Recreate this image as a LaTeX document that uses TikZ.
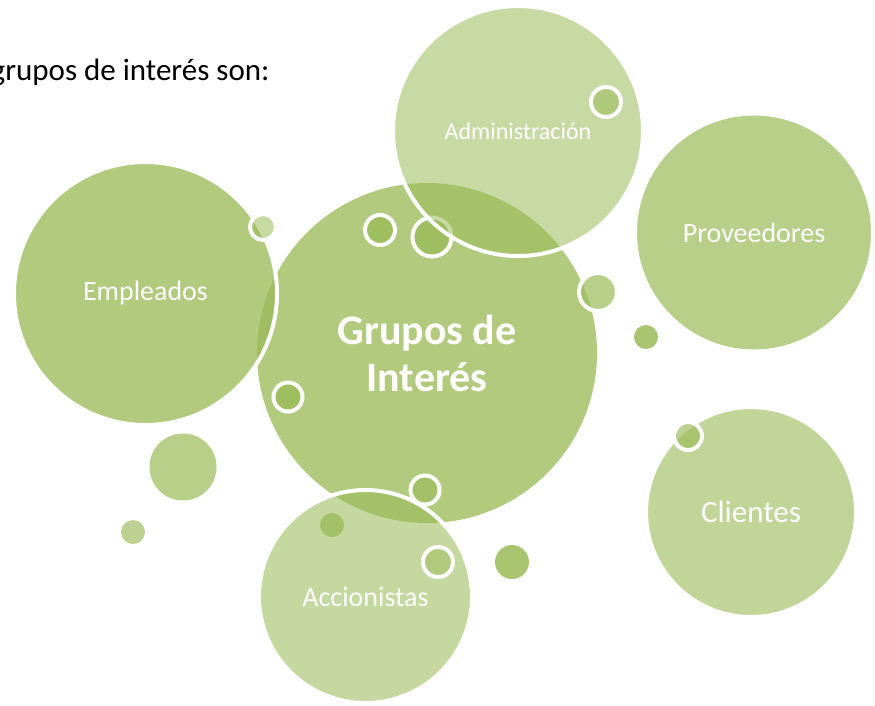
\documentclass[tikz,border=0pt]{standalone}
\usepackage{fontspec}
\setmainfont{Carlito}
\definecolor{olive}{HTML}{9BBB59}

\begin{document}
\begin{tikzpicture}[x=1pt,y=-1pt,
    big node/.style={circle,inner sep=0pt,fill=olive,draw=white,line width=4pt,text=white,text opacity=1,align=center},
    ring node/.style={circle,inner sep=0pt,fill=olive,draw=white,line width=4pt},
    dot node/.style={circle,inner sep=0pt,fill=olive}]
    \useasboundingbox (0,0) rectangle (875,705);

    \node[anchor=base east,font=\fontsize{31}{37}\selectfont] (titulo) at (273,80) {grupos de interés son:};

    % centre and the circles over it
    \node[big node,draw=none,minimum size=340pt,fill opacity=0.78,font=\fontsize{42}{47}\selectfont\bfseries] (grupos) at (427,353) {Grupos de\\Interés};
    \node[big node,minimum size=263pt,fill opacity=0.78,font=\fontsize{28}{34}\selectfont] (empleados) at (145.5,293.5) {Empleados};
    \node[ring node,minimum size=26pt,fill opacity=0.55] (b1) at (263,227) {};
    \node[ring node,minimum size=30pt,fill opacity=0.8] (b2) at (380,230) {};
    \node[ring node,minimum size=39pt,fill opacity=0.8] (b3) at (432,237) {};
    \node[ring node,minimum size=29pt,fill opacity=0.8] (b4) at (288,397) {};
    \node[ring node,minimum size=38pt,fill opacity=0.71] (b5) at (598,292) {};
    \node[big node,minimum size=250pt,fill opacity=0.55,font=\fontsize{24}{29}\selectfont] (administracion) at (518,131) {Administración};
    \node[ring node,minimum size=30pt,fill opacity=0.55] (b6) at (606,102) {};

    \node[big node,minimum size=238pt,fill opacity=0.71,font=\fontsize{28}{34}\selectfont] (proveedores) at (754,232.5) {Proveedores};
    \node[dot node,minimum size=24pt,fill opacity=0.85] (d1) at (646,337) {};
    \node[big node,minimum size=210pt,fill opacity=0.62,font=\fontsize{31}{37}\selectfont] (clientes) at (751,512) {Clientes};
    \node[ring node,minimum size=28pt,fill opacity=0.66] (b7) at (688,436) {};

    \node[big node,minimum size=213pt,fill opacity=0.58,font=\fontsize{28}{34}\selectfont] (accionistas) at (365.5,596.5) {Accionistas};
    \node[ring node,minimum size=29pt,fill opacity=0.6] (b8) at (425,490) {};
    \node[dot node,minimum size=24pt,fill opacity=0.8] (d2) at (332,525) {};
    \node[ring node,minimum size=30pt,fill opacity=0.5] (b9) at (438,562) {};
    \node[dot node,minimum size=34pt,fill opacity=0.87] (d3) at (512,562) {};

    \node[dot node,minimum size=67pt,fill opacity=0.71] (d4) at (183,467) {};
    \node[dot node,minimum size=24pt,fill opacity=0.66] (d5) at (133,532) {};
\end{tikzpicture}
\end{document}
